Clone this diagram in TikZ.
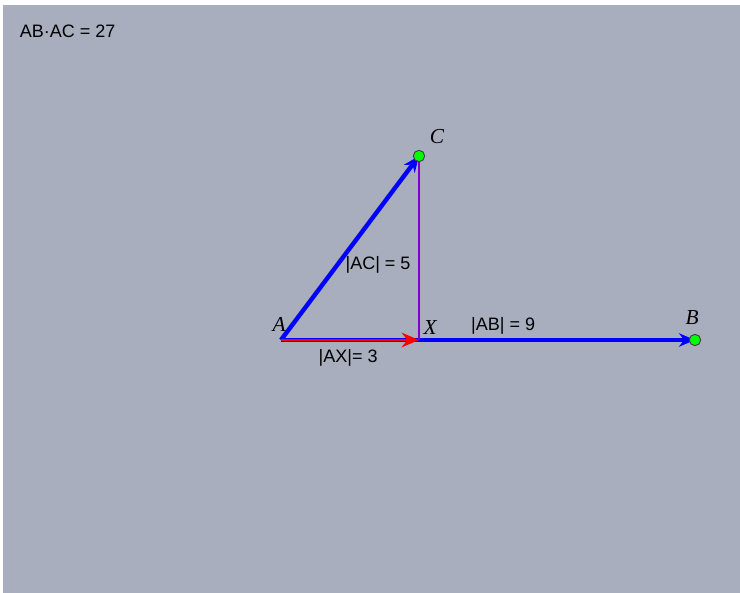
\documentclass[tikz,border=0pt]{standalone}
\usepackage{fontspec}
\setmainfont{Liberation Sans}
\newfontfamily\ptfont{Liberation Serif}
\usetikzlibrary{arrows.meta, positioning, calc}
\definecolor{panel}{RGB}{168,174,190}
\definecolor{vecblue}{RGB}{0,0,255}
\definecolor{projred}{RGB}{255,0,0}
\definecolor{perppurple}{RGB}{127,0,200}
\definecolor{ptgreen}{RGB}{0,255,0}
\tikzset{
  vec/.style={line width=3.3pt, vecblue, -{Stealth[length=12pt, width=10pt]}},
  proj/.style={line width=1.6pt, projred, -{Stealth[length=13pt, width=11pt]}},
  perp/.style={line width=1pt, perppurple},
  pt/.style={circle, fill=ptgreen, draw=black!75, line width=0.7pt,
    inner sep=0pt, minimum size=8.5pt},
  ptlabel/.style={font=\ptfont\itshape\fontsize{16}{16}\selectfont},
  meas/.style={font=\fontsize{13.5}{14}\selectfont}
}
\begin{document}
\begin{tikzpicture}[x=34.5pt, y=34.5pt]
        \useasboundingbox (-6.1087,-5.5) rectangle (9.9783,7.3913);
        \fill[panel] (-6.0435,-5.5) rectangle (9.9783,7.2826);
        % points of the figure
        \coordinate (A) at (0,0);
        \coordinate (B) at (9,0);
        \coordinate (C) at (3,4);
        \coordinate (X) at (3,0);
        % vectors and projection
        \draw[vec] (A) -- (B);
        \draw[vec] (A) -- (C);
        \draw[proj] (A) -- (X);
        \draw[perp] (C) -- (X);
        \node[pt] (Cdot) at (C) {};
        \node[pt] (Bdot) at (B) {};
        % labels
        \node[ptlabel] (Alabel) at (-0.04,0.33) {A};
        \node[ptlabel] (Blabel) at (8.94,0.48) {B};
        \node[ptlabel] (Clabel) at (3.39,4.43) {C};
        \node[ptlabel] (Xlabel) at (3.24,0.28) {X};
        \node[meas] (ACmeas) at (2.11,1.63) {|AC| = 5};
        \node[meas] (ABmeas) at (4.83,0.30) {|AB| = 9};
        \node[meas] (AXmeas) at (1.46,-0.39) {|AX|= 3};
        \node[meas, anchor=west] (dot) at (-5.78,6.72) {AB·AC = 27};
      \end{tikzpicture}
\end{document}
